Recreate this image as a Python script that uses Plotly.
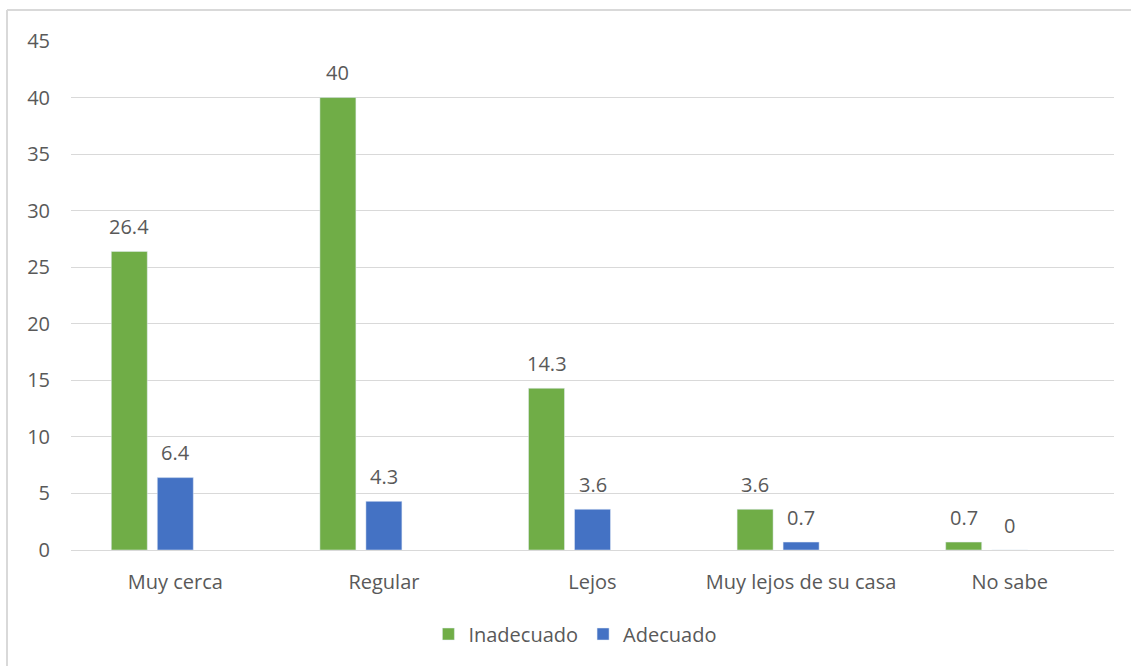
import plotly.graph_objects as go

categories = ["Muy cerca", "Regular", "Lejos", "Muy lejos de su casa", "No sabe"]
inadecuado = [26.4, 40, 14.3, 3.6, 0.7]
adecuado = [6.4, 4.3, 3.6, 0.7, 0]
series_names = ["Inadecuado", "Adecuado"]
yticks = [0, 5, 10, 15, 20, 25, 30, 35, 40, 45]

W, H = 1131, 666
L, R, T, B = 71, 17, 41, 116
PW, PH = W - L - R, H - T - B
cat_px = PW / len(categories)
bar_w = 36 / cat_px

FONT = "Open Sans"
FS = 20
TXT = "#595959"

fig = go.Figure()
annotations = []
for vals, name, color, shift_px in [
    (inadecuado, series_names[0], "#70AD47", -46),
    (adecuado, series_names[1], "#4472C4", 0),
]:
    center = shift_px / cat_px
    fig.add_trace(go.Bar(
        x=categories, y=vals, name=name, marker_color=color,
        width=bar_w, offset=center - bar_w / 2,
    ))
    for c, v in zip(categories, vals):
        annotations.append(dict(
            x=c, y=v, xref="x", yref="y", text=str(v), showarrow=False,
            xshift=shift_px, yshift=25, yanchor="middle", xanchor="center",
            font=dict(family=FONT, size=FS, color=TXT),
        ))

fig.update_layout(
    width=W, height=H,
    margin=dict(l=L, r=R, t=T, b=B, autoexpand=False),
    plot_bgcolor="white", paper_bgcolor="white",
    font=dict(family=FONT, size=FS, color=TXT),
    barmode="group",
    showlegend=True,
    legend=dict(orientation="h", x=0.4836, xanchor="center", y=(H - B - 634) / PH, yanchor="middle",
                font=dict(family=FONT, size=FS, color=TXT), itemwidth=30, traceorder="normal"),
    xaxis=dict(showgrid=False, showline=False, ticks="", tickfont=dict(size=FS, color=TXT),
               ticklabelstandoff=18),
    yaxis=dict(range=[0, 45], tickvals=yticks, showgrid=True, gridcolor="#D9D9D9", gridwidth=1.3,
               zeroline=True, zerolinecolor="#D9D9D9", zerolinewidth=1.3,
               showline=False, ticks="", tickfont=dict(size=FS, color=TXT), ticklabelstandoff=20),
    annotations=annotations,
    shapes=[
        dict(type="line", xref="paper", yref="paper",
             x0=(7 - L) / PW, x1=(W + 5 - L) / PW,
             y0=(H - B - 10) / PH, y1=(H - B - 10) / PH,
             line=dict(color="#D9D9D9", width=2)),
        dict(type="line", xref="paper", yref="paper",
             x0=(7 - L) / PW, x1=(7 - L) / PW,
             y0=(H - B - 10) / PH, y1=(H - B - H - 5) / PH,
             line=dict(color="#D9D9D9", width=2)),
    ],
)

fig.write_html("out.html", config={"displayModeBar": False},
               post_script="document.body.style.margin='0';document.body.style.overflow='hidden';")
